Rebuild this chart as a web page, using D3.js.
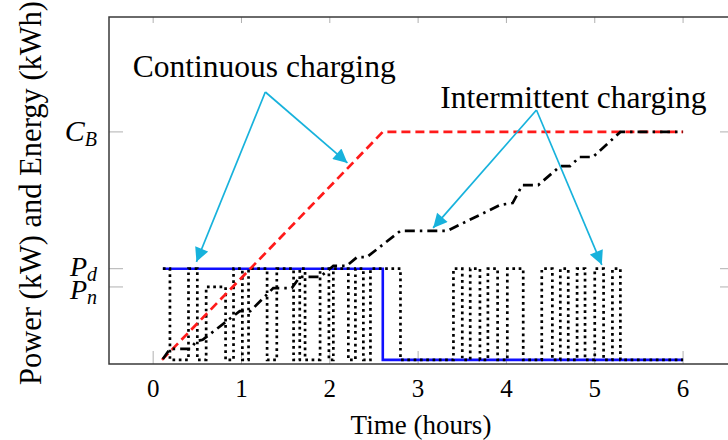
<!DOCTYPE html>
<html>
<head>
<meta charset="utf-8">
<script src="https://cdn.jsdelivr.net/npm/d3@7"></script>
<style>
  body { margin: 0; background: #fff; }
  text { font-family: "Liberation Serif", "Times New Roman", serif; fill: #000; }
  .math { font-style: italic; }
</style>
</head>
<body>
<div id="chart"></div>
<script>
// ---- data (time in hours, level in chart units) ----
const xTicks = [0, 1, 2, 3, 4, 5, 6];
const yTickValues = [10, 4, 3.2];
const yTickMain = ["C", "P", "P"];
const yTickSub = ["B", "d", "n"];

// continuous charging: power (blue, step) and energy (red dashed)
const contPowerT = [0.11, 2.6, 2.6, 6.0];
const contPowerV = [4, 4, 0, 0];
const contEnergyT = [0.1, 2.6, 6.0];
const contEnergyV = [0, 10, 10];

// intermittent charging: power (dotted, step after) and energy (dash-dot)
const intPowerT = [0.11, 0.19, 0.4, 0.5, 0.6, 0.82, 0.91, 1.01, 1.08, 1.29, 1.4, 1.59, 1.66, 1.72,
  1.89, 1.99, 2.04, 2.21, 2.29, 2.38, 2.46, 2.8, 3.4, 3.5, 3.59, 3.7, 3.79, 3.9, 4.01, 4.19,
  4.4, 4.52, 4.61, 4.7, 4.8, 4.89, 5.0, 5.1, 5.2, 5.29, 6.0];
const intPowerV = [4, 0, 4, 0, 3.2, 0, 4, 0, 4, 0, 4, 0, 4, 0,
  4, 0, 4, 0, 4, 0, 4, 0, 4, 0, 4, 0, 4, 0, 4, 0,
  4, 0, 4, 0, 4, 0, 4, 0, 4, 0, 0];
const intEnergyT = [0.11, 0.19, 0.42, 0.49, 0.56, 0.98, 1.1, 1.36, 1.57, 1.66, 1.89, 2.04, 2.19,
  2.31, 2.42, 2.8, 3.33, 3.93, 4.07, 4.18, 4.36, 4.61, 4.72, 4.83, 4.98, 5.29, 6.0];
const intEnergyV = [0.04, 0.48, 0.48, 0.83, 0.88, 2.14, 2.14, 3.15, 3.15, 3.64, 3.64, 4.12, 4.12,
  4.51, 4.51, 5.66, 5.66, 6.8, 6.88, 7.67, 7.67, 8.5, 8.5, 8.9, 8.9, 10, 10];

// annotations: label anchor, arrow apex, arrow tips
const annoText = ["Continuous charging", "Intermittent charging"];
const annoTextPos = [[-0.23, 12.41], [3.25, 11.05]];
const annoApex = [[1.27, 11.75], [4.34, 10.96]];
const annoTips = [[[0.49, 4.3], [2.2, 8.64]], [[3.17, 5.79], [5.08, 4.17]]];

// ---- layout ----
const W = 728, H = 440;
const svg = d3.select("#chart").append("svg")
    .attr("width", W)
    .attr("height", H);

const x = d3.scaleLinear().domain([-0.5, 6.52]).range([109, 729]);
const y = d3.scaleLinear().domain([-0.18, 15.04]).range([364, 17]);

const plotTop = y.range()[1], plotBottom = y.range()[0];
const plotLeft = x.range()[0], plotRight = x.range()[1];

// tick marks (grey, inside the box)
const tickG = svg.append("g").attr("stroke", "#b0b0b0").attr("stroke-width", 1);
xTicks.forEach(t => {
    tickG.append("line").attr("x1", x(t)).attr("x2", x(t)).attr("y1", plotBottom).attr("y2", plotBottom - 13);
    tickG.append("line").attr("x1", x(t)).attr("x2", x(t)).attr("y1", plotTop).attr("y2", plotTop + 6);
});
yTickValues.forEach(v => {
    tickG.append("line").attr("x1", plotLeft).attr("x2", plotLeft + 14).attr("y1", y(v)).attr("y2", y(v));
    tickG.append("line").attr("x1", plotRight - 9).attr("x2", plotRight).attr("y1", y(v)).attr("y2", y(v));
});

// x tick labels
svg.append("g").selectAll("text")
    .data(xTicks)
    .join("text")
    .attr("x", d => x(d))
    .attr("y", 397)
    .attr("text-anchor", "middle")
    .attr("font-size", 25)
    .text(d => d);

// y tick labels (math style, P_d and P_n sit close like in the figure)
const yLabelShift = [9, 7, 12];
yTickValues.forEach((v, i) => {
    const t = svg.append("text")
        .attr("class", "math")
        .attr("x", plotLeft - 12)
        .attr("y", y(v) + yLabelShift[i])
        .attr("text-anchor", "end")
        .attr("font-size", i === 0 ? 30 : 28);
    t.append("tspan").text(yTickMain[i]);
    t.append("tspan").attr("font-size", 20).attr("dy", 5).text(yTickSub[i]);
});

// axis titles
svg.append("text")
    .attr("x", 421)
    .attr("y", 434)
    .attr("text-anchor", "middle")
    .attr("font-size", 27)
    .text("Time (hours)");

svg.append("text")
    .attr("transform", `translate(41, 193) rotate(-90)`)
    .attr("text-anchor", "middle")
    .attr("font-size", 30.5)
    .text("Power (kW) and Energy (kWh)");

// ---- series ----
const pts = (ts, vs) => ts.map((t, i) => [t, vs[i]]);
const lineLin = d3.line().x(d => x(d[0])).y(d => y(d[1]));
const lineStep = d3.line().x(d => x(d[0])).y(d => y(d[1])).curve(d3.curveStepAfter);

svg.append("path")
    .datum(pts(contPowerT, contPowerV))
    .attr("d", lineLin)
    .attr("fill", "none")
    .attr("stroke", "#1010ff")
    .attr("stroke-width", 2.6);

svg.append("path")
    .datum(pts(intPowerT, intPowerV))
    .attr("d", lineStep)
    .attr("fill", "none")
    .attr("stroke", "#000")
    .attr("stroke-width", 2.7)
    .attr("stroke-dasharray", "2.7,3.6");

svg.append("path")
    .datum(pts(contEnergyT, contEnergyV))
    .attr("d", lineLin)
    .attr("fill", "none")
    .attr("stroke", "#ff1a1a")
    .attr("stroke-width", 2.7)
    .attr("stroke-dasharray", "9,5");

svg.append("path")
    .datum(pts(intEnergyT, intEnergyV))
    .attr("d", lineLin)
    .attr("fill", "none")
    .attr("stroke", "#000")
    .attr("stroke-width", 2.7)
    .attr("stroke-dasharray", "10,5,2.5,5");

// ---- box ----
svg.append("path")
    .attr("d", `M${plotRight},${plotTop}H${plotLeft}V${plotBottom}H${plotRight}`)
    .attr("fill", "none")
    .attr("stroke", "#3a3a3a")
    .attr("stroke-width", 1.5);

// ---- annotations ----
const cyan = "#17b2dc";
svg.append("defs").append("marker")
    .attr("id", "head")
    .attr("viewBox", "0 0 10 10")
    .attr("refX", 10)
    .attr("refY", 5)
    .attr("markerUnits", "userSpaceOnUse")
    .attr("markerWidth", 16)
    .attr("markerHeight", 14)
    .attr("orient", "auto")
    .append("path")
    .attr("d", "M0,0L10,5L0,10Z")
    .attr("fill", cyan);

annoText.forEach((label, i) => {
    svg.append("text")
        .attr("x", x(annoTextPos[i][0]))
        .attr("y", y(annoTextPos[i][1]))
        .attr("font-size", 31.5)
        .text(label);
    annoTips[i].forEach(tip => {
        svg.append("line")
            .attr("x1", x(annoApex[i][0]))
            .attr("y1", y(annoApex[i][1]))
            .attr("x2", x(tip[0]))
            .attr("y2", y(tip[1]))
            .attr("stroke", cyan)
            .attr("stroke-width", 1.7)
            .attr("marker-end", "url(#head)");
    });
});
</script>
</body>
</html>
